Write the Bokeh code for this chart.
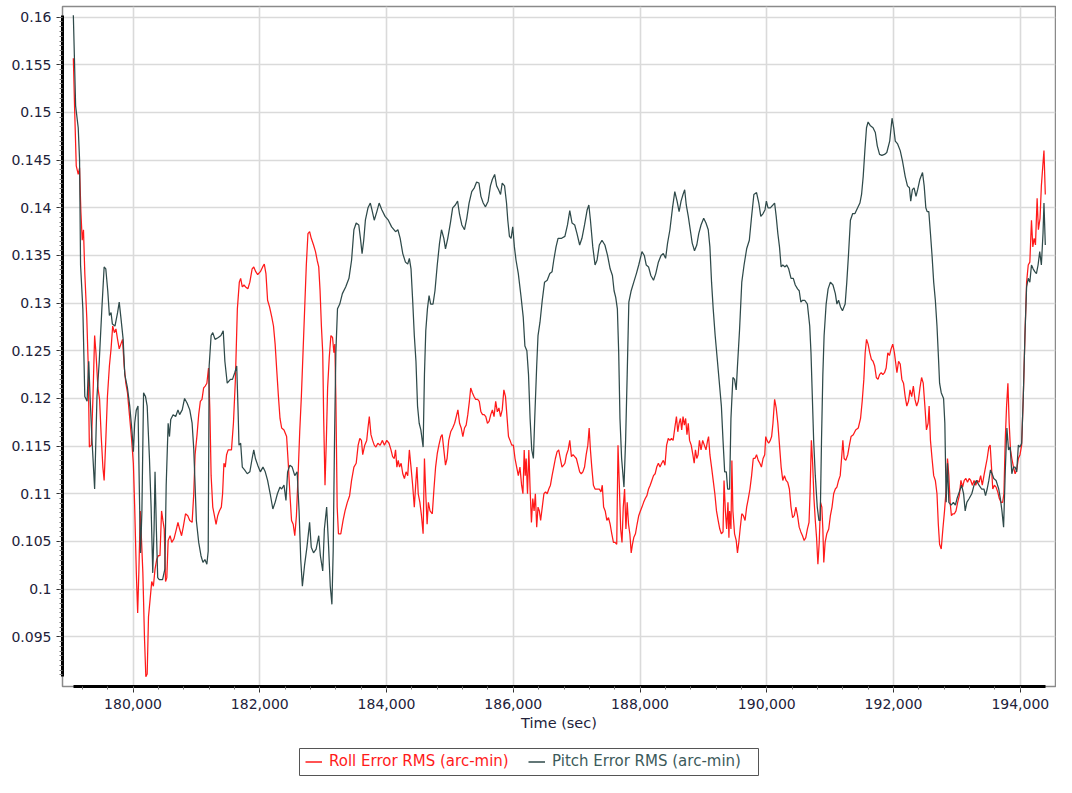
from bokeh.plotting import figure
from bokeh.layouts import column
from bokeh.models import (SingleIntervalTicker, NumeralTickFormatter, CustomJSTickFormatter,
                          Legend, LegendItem, BoxAnnotation, Range1d)
from bokeh.embed import file_html
from bokeh.resources import INLINE

# ---------------- data ----------------
pitch_time = [179058, 179094, 179135, 179156, 179172, 179208, 179239, 179275, 179301, 179322,
              179353, 179394, 179431, 179467, 179508, 179544, 179570, 179601, 179627, 179653,
              179674, 179715, 179756, 179782, 179808, 179844, 179870, 179912, 179948, 179984,
              180005, 180026, 180052, 180078, 180104, 180119, 180140, 180166, 180197, 180223,
              180259, 180285, 180311, 180332, 180347, 180368, 180389, 180414, 180466, 180502,
              180523, 180554, 180575, 180595, 180632, 180673, 180709, 180735, 180776, 180813,
              180854, 180895, 180932, 180958, 180979, 180999, 181036, 181072, 181103, 181134,
              181165, 181186, 181201, 181232, 181258, 181294, 181346, 181387, 181423, 181449,
              181486, 181537, 181569, 181605, 181636, 181657, 181672, 181698, 181724, 181760,
              181802, 181843, 181879, 181905, 181931, 181967, 182009, 182050, 182086, 182123,
              182164, 182206, 182242, 182278, 182319, 182345, 182382, 182413, 182439, 182475,
              182511, 182552, 182589, 182620, 182646, 182672, 182708, 182744, 182786, 182812,
              182848, 182889, 182930, 182956, 182993, 183019, 183055, 183086, 183112, 183138,
              183158, 183179, 183200, 183226, 183262, 183303, 183355, 183407, 183448, 183485,
              183521, 183562, 183588, 183614, 183640, 183666, 183707, 183744, 183769, 183806,
              183847, 183883, 183925, 183977, 184028, 184080, 184142, 184179, 184215, 184256,
              184298, 184334, 184360, 184386, 184412, 184438, 184464, 184489, 184515, 184541,
              184577, 184598, 184619, 184645, 184671, 184696, 184733, 184764, 184800, 184836,
              184867, 184904, 184930, 184966, 185007, 185043, 185085, 185121, 185152, 185188,
              185230, 185266, 185302, 185344, 185385, 185421, 185458, 185489, 185525, 185561,
              185603, 185639, 185670, 185706, 185737, 185768, 185799, 185825, 185862, 185893,
              185913, 185939, 185965, 185991, 186017, 186043, 186079, 186120, 186157, 186183,
              186214, 186240, 186265, 186291, 186317, 186338, 186369, 186390, 186421, 186457,
              186493, 186535, 186576, 186612, 186638, 186674, 186706, 186762, 186814, 186855,
              186891, 186927, 186969, 187005, 187047, 187083, 187124, 187166, 187192, 187217,
              187254, 187290, 187321, 187357, 187399, 187445, 187487, 187528, 187564, 187590,
              187616, 187642, 187663, 187683, 187709, 187746, 187772, 187797, 187823, 187860,
              187901, 187942, 187979, 188030, 188067, 188098, 188134, 188170, 188212, 188248,
              188289, 188331, 188367, 188403, 188434, 188471, 188512, 188548, 188584, 188616,
              188647, 188678, 188704, 188729, 188761, 188792, 188823, 188859, 188895, 188926,
              188962, 189004, 189040, 189076, 189102, 189128, 189154, 189185, 189221, 189258,
              189283, 189309, 189335, 189361, 189382, 189413, 189434, 189465, 189491, 189517,
              189537, 189569, 189605, 189641, 189682, 189724, 189760, 189796, 189838, 189874,
              189905, 189941, 189972, 189993, 190019, 190055, 190097, 190123, 190148, 190174,
              190200, 190226, 190252, 190288, 190314, 190345, 190382, 190418, 190449, 190485,
              190511, 190537, 190563, 190599, 190640, 190677, 190697, 190718, 190739, 190765,
              190796, 190822, 190842, 190863, 190884, 190904, 190936, 190967, 191003, 191044,
              191081, 191106, 191132, 191163, 191194, 191236, 191262, 191288, 191319, 191355,
              191391, 191433, 191469, 191495, 191521, 191547, 191573, 191598, 191635, 191676,
              191712, 191743, 191779, 191815, 191857, 191893, 191939, 191976, 192002, 192027,
              192064, 192105, 192141, 192183, 192219, 192250, 192271, 192297, 192323, 192354,
              192380, 192416, 192457, 192483, 192509, 192530, 192556, 192582, 192607, 192633,
              192659, 192685, 192711, 192726, 192752, 192789, 192809, 192830, 192851, 192872,
              192908, 192944, 192975, 193001, 193037, 193073, 193105, 193130, 193156, 193193,
              193234, 193270, 193306, 193348, 193389, 193426, 193451, 193477, 193503, 193529,
              193555, 193581, 193617, 193659, 193685, 193710, 193736, 193762, 193788, 193814,
              193840, 193866, 193892, 193918, 193943, 193969, 193995, 194021, 194047, 194073,
              194099, 194125, 194150, 194176, 194202, 194228, 194254, 194280, 194306, 194332,
              194358, 194373, 194394]

pitch_rms = [0.1602, 0.1507, 0.1484, 0.1451, 0.1340, 0.1294, 0.1202, 0.1197, 0.1239, 0.1202,
             0.1156, 0.1105, 0.1202, 0.1239, 0.1294, 0.1338, 0.1336, 0.1313, 0.1287, 0.1290,
             0.1278, 0.1276, 0.1290, 0.1301, 0.1285, 0.1262, 0.1225, 0.1211, 0.1192, 0.1165,
             0.1144, 0.1174, 0.1188, 0.1192, 0.1086, 0.1038, 0.1082, 0.1206, 0.1202, 0.1192,
             0.1137, 0.1086, 0.1017, 0.1063, 0.1123, 0.1063, 0.1012, 0.1010, 0.1010, 0.1021,
             0.1109, 0.1174, 0.1160, 0.1178, 0.1183, 0.1181, 0.1188, 0.1183, 0.1188, 0.1200,
             0.1195, 0.1188, 0.1174, 0.1147, 0.1109, 0.1072, 0.1049, 0.1035, 0.1028, 0.1031,
             0.1026, 0.1040, 0.1234, 0.1266, 0.1269, 0.1262, 0.1264, 0.1266, 0.1271, 0.1239,
             0.1216, 0.1220, 0.1220, 0.1227, 0.1234, 0.1188, 0.1151, 0.1153, 0.1128, 0.1125,
             0.1121, 0.1123, 0.1137, 0.1146, 0.1137, 0.1130, 0.1123, 0.1128, 0.1123, 0.1114,
             0.1100, 0.1084, 0.1091, 0.1100, 0.1107, 0.1105, 0.1109, 0.1093, 0.1123, 0.1130,
             0.1128, 0.1119, 0.1123, 0.1082, 0.1031, 0.1003, 0.1026, 0.1044, 0.1070, 0.1044,
             0.1038, 0.1042, 0.1056, 0.1035, 0.1019, 0.1063, 0.1086, 0.1044, 0.1003, 0.0984,
             0.1040, 0.1156, 0.1248, 0.1294, 0.1299, 0.1310, 0.1317, 0.1326, 0.1345, 0.1377,
             0.1384, 0.1382, 0.1368, 0.1352, 0.1366, 0.1387, 0.1400, 0.1405, 0.1398, 0.1387,
             0.1396, 0.1405, 0.1398, 0.1391, 0.1387, 0.1380, 0.1375, 0.1377, 0.1368, 0.1352,
             0.1343, 0.1341, 0.1347, 0.1336, 0.1303, 0.1266, 0.1239, 0.1192, 0.1174, 0.1167,
             0.1149, 0.1225, 0.1271, 0.1294, 0.1308, 0.1299, 0.1299, 0.1313, 0.1340, 0.1363,
             0.1377, 0.1368, 0.1357, 0.1368, 0.1384, 0.1400, 0.1403, 0.1407, 0.1393, 0.1382,
             0.1377, 0.1389, 0.1405, 0.1417, 0.1421, 0.1427, 0.1426, 0.1412, 0.1405, 0.1401,
             0.1407, 0.1423, 0.1430, 0.1435, 0.1423, 0.1419, 0.1414, 0.1426, 0.1423, 0.1405,
             0.1387, 0.1370, 0.1368, 0.1380, 0.1359, 0.1345, 0.1331, 0.1308, 0.1285, 0.1255,
             0.1250, 0.1225, 0.1179, 0.1146, 0.1137, 0.1179, 0.1234, 0.1266, 0.1280, 0.1303,
             0.1322, 0.1324, 0.1331, 0.1333, 0.1345, 0.1359, 0.1368, 0.1368, 0.1370, 0.1382,
             0.1397, 0.1384, 0.1382, 0.1373, 0.1361, 0.1368, 0.1382, 0.1398, 0.1403, 0.1387,
             0.1359, 0.1340, 0.1345, 0.1361, 0.1366, 0.1361, 0.1350, 0.1336, 0.1329, 0.1313,
             0.1306, 0.1294, 0.1248, 0.1179, 0.1137, 0.1107, 0.1156, 0.1225, 0.1301, 0.1313,
             0.1322, 0.1331, 0.1340, 0.1354, 0.1350, 0.1340, 0.1338, 0.1329, 0.1324, 0.1331,
             0.1343, 0.1350, 0.1352, 0.1347, 0.1363, 0.1377, 0.1400, 0.1417, 0.1407, 0.1396,
             0.1407, 0.1414, 0.1419, 0.1403, 0.1391, 0.1377, 0.1363, 0.1355, 0.1361, 0.1373,
             0.1382, 0.1389, 0.1384, 0.1377, 0.1359, 0.1322, 0.1294, 0.1266, 0.1239, 0.1211,
             0.1192, 0.1156, 0.1123, 0.1123, 0.1105, 0.1105, 0.1179, 0.1222, 0.1220, 0.1209,
             0.1234, 0.1271, 0.1322, 0.1340, 0.1357, 0.1366, 0.1391, 0.1414, 0.1416, 0.1405,
             0.1391, 0.1394, 0.1398, 0.1407, 0.1400, 0.1400, 0.1403, 0.1405, 0.1391, 0.1373,
             0.1359, 0.1338, 0.1340, 0.1338, 0.1340, 0.1336, 0.1326, 0.1326, 0.1319, 0.1315,
             0.1313, 0.1301, 0.1303, 0.1303, 0.1299, 0.1276, 0.1248, 0.1202, 0.1156, 0.1119,
             0.1086, 0.1072, 0.1072, 0.1156, 0.1225, 0.1266, 0.1299, 0.1315, 0.1322, 0.1319,
             0.1310, 0.1299, 0.1303, 0.1296, 0.1292, 0.1299, 0.1322, 0.1350, 0.1387, 0.1394,
             0.1394, 0.1400, 0.1405, 0.1414, 0.1433, 0.1460, 0.1484, 0.1490, 0.1486, 0.1484,
             0.1479, 0.1465, 0.1456, 0.1455, 0.1456, 0.1458, 0.1470, 0.1494, 0.1484, 0.1470,
             0.1467, 0.1460, 0.1449, 0.1433, 0.1423, 0.1421, 0.1407, 0.1419, 0.1421, 0.1412,
             0.1419, 0.1430, 0.1437, 0.1423, 0.1400, 0.1396, 0.1396, 0.1373, 0.1350, 0.1322,
             0.1303, 0.1276, 0.1239, 0.1216, 0.1206, 0.1200, 0.1174, 0.1091, 0.1132, 0.1091,
             0.1088, 0.1091, 0.1088, 0.1095, 0.1102, 0.1109, 0.1100, 0.1082, 0.1091, 0.1095,
             0.1100, 0.1109, 0.1114, 0.1109, 0.1105, 0.1105, 0.1098, 0.1105, 0.1114, 0.1125,
             0.1121, 0.1116, 0.1114, 0.1105, 0.1095, 0.1082, 0.1065, 0.1123, 0.1169, 0.1146,
             0.1149, 0.1121, 0.1128, 0.1128, 0.1123, 0.1151, 0.1149, 0.1153, 0.1202, 0.1266,
             0.1317, 0.1326, 0.1322, 0.1340, 0.1336, 0.1333, 0.1331, 0.1340, 0.1354, 0.1340,
             0.1373, 0.1405, 0.1361]

roll_time = [179058, 179079, 179104, 179135, 179156, 179177, 179198, 179218, 179239, 179270,
             179291, 179311, 179342, 179368, 179394, 179415, 179446, 179472, 179498, 179524,
             179544, 179570, 179596, 179627, 179653, 179679, 179705, 179730, 179756, 179782,
             179808, 179834, 179860, 179886, 179912, 179943, 179974, 180005, 180026, 180052,
             180073, 180093, 180114, 180135, 180155, 180181, 180202, 180223, 180244, 180269,
             180295, 180321, 180347, 180373, 180399, 180425, 180450, 180471, 180492, 180513,
             180533, 180554, 180585, 180611, 180647, 180684, 180709, 180735, 180766, 180792,
             180828, 180864, 180895, 180932, 180958, 180979, 181010, 181036, 181062, 181088,
             181114, 181139, 181165, 181191, 181212, 181232, 181258, 181284, 181310, 181336,
             181362, 181393, 181413, 181434, 181455, 181476, 181501, 181527, 181553, 181584,
             181615, 181646, 181677, 181698, 181724, 181750, 181776, 181812, 181843, 181879,
             181905, 181936, 181967, 182009, 182045, 182071, 182097, 182123, 182154, 182190,
             182216, 182242, 182268, 182294, 182319, 182345, 182382, 182423, 182449, 182475,
             182501, 182527, 182552, 182578, 182604, 182630, 182656, 182682, 182708, 182734,
             182760, 182786, 182812, 182848, 182879, 182905, 182930, 182951, 182972, 182993,
             183008, 183029, 183050, 183070, 183096, 183122, 183148, 183169, 183184, 183200,
             183221, 183241, 183278, 183314, 183345, 183381, 183417, 183448, 183485, 183521,
             183552, 183578, 183604, 183624, 183656, 183687, 183707, 183728, 183754, 183780,
             183806, 183832, 183863, 183899, 183935, 183966, 184003, 184039, 184070, 184096,
             184122, 184142, 184163, 184184, 184205, 184230, 184256, 184282, 184308, 184334,
             184360, 184386, 184412, 184438, 184464, 184479, 184500, 184526, 184551, 184577,
             184598, 184619, 184640, 184660, 184686, 184722, 184748, 184774, 184800, 184826,
             184857, 184878, 184904, 184930, 184955, 184981, 185012, 185043, 185074, 185100,
             185126, 185152, 185178, 185204, 185230, 185256, 185282, 185307, 185328, 185354,
             185380, 185406, 185437, 185463, 185489, 185515, 185540, 185566, 185592, 185618,
             185644, 185670, 185696, 185722, 185748, 185773, 185799, 185825, 185851, 185877,
             185898, 185924, 185949, 185975, 186001, 186027, 186053, 186079, 186105, 186131,
             186152, 186172, 186188, 186203, 186224, 186245, 186265, 186286, 186307, 186328,
             186348, 186369, 186390, 186411, 186431, 186457, 186483, 186509, 186535, 186560,
             186586, 186612, 186638, 186664, 186690, 186716, 186742, 186768, 186794, 186814,
             186839, 186865, 186891, 186917, 186943, 186969, 186995, 187021, 187047, 187072,
             187098, 187124, 187150, 187176, 187197, 187217, 187238, 187264, 187290, 187321,
             187357, 187383, 187404, 187425, 187450, 187476, 187502, 187528, 187554, 187580,
             187606, 187632, 187652, 187673, 187694, 187715, 187735, 187756, 187777, 187797,
             187818, 187839, 187860, 187880, 187901, 187927, 187953, 187979, 188005, 188030,
             188056, 188082, 188108, 188134, 188160, 188186, 188212, 188238, 188263, 188289,
             188315, 188341, 188367, 188393, 188419, 188445, 188471, 188496, 188522, 188548,
             188574, 188595, 188616, 188637, 188657, 188678, 188699, 188719, 188740, 188761,
             188781, 188807, 188833, 188854, 188874, 188895, 188916, 188937, 188962, 188988,
             189014, 189040, 189066, 189081, 189102, 189128, 189154, 189180, 189206, 189232,
             189258, 189283, 189309, 189325, 189346, 189366, 189387, 189402, 189413, 189434,
             189449, 189465, 189491, 189517, 189537, 189558, 189579, 189605, 189631, 189657,
             189682, 189708, 189734, 189760, 189786, 189812, 189838, 189864, 189890, 189915,
             189941, 189967, 189983, 190003, 190029, 190055, 190076, 190097, 190123, 190148,
             190174, 190200, 190226, 190252, 190278, 190304, 190330, 190356, 190382, 190407,
             190433, 190459, 190485, 190511, 190537, 190563, 190589, 190615, 190640, 190666,
             190682, 190703, 190723, 190744, 190765, 190785, 190806, 190827, 190848, 190868,
             190884, 190899, 190920, 190946, 190977, 191003, 191029, 191055, 191081, 191106,
             191132, 191158, 191184, 191200, 191220, 191246, 191277, 191303, 191329, 191365,
             191402, 191443, 191479, 191505, 191531, 191552, 191573, 191598, 191624, 191650,
             191676, 191702, 191728, 191754, 191779, 191805, 191831, 191857, 191883, 191909,
             191935, 191961, 191987, 192013, 192053, 192079, 192105, 192131, 192157, 192183,
             192209, 192235, 192260, 192286, 192312, 192338, 192364, 192390, 192416, 192442,
             192468, 192494, 192519, 192545, 192561, 192582, 192607, 192633, 192659, 192685,
             192706, 192726, 192752, 192778, 192804, 192830, 192851, 192872, 192892, 192913,
             192934, 192960, 192985, 193011, 193037, 193063, 193089, 193115, 193141, 193167,
             193193, 193218, 193244, 193270, 193296, 193322, 193348, 193374, 193400, 193426,
             193451, 193477, 193503, 193524, 193545, 193565, 193591, 193617, 193643, 193669,
             193695, 193721, 193741, 193762, 193783, 193804, 193824, 193845, 193866, 193892,
             193918, 193943, 193969, 193995, 194021, 194047, 194073, 194099, 194125, 194150,
             194176, 194197, 194218, 194239, 194265, 194285, 194311, 194332, 194358, 194373,
             194394]

roll_rms = [0.1557, 0.1502, 0.1444, 0.1435, 0.1442, 0.1396, 0.1366, 0.1377, 0.1331, 0.1285,
            0.1239, 0.1149, 0.1151, 0.1202, 0.1266, 0.1248, 0.1211, 0.1199, 0.1160, 0.1128,
            0.1114, 0.1156, 0.1202, 0.1234, 0.1252, 0.1276, 0.1269, 0.1273, 0.1262, 0.1252,
            0.1257, 0.1262, 0.1234, 0.1216, 0.1206, 0.1183, 0.1160, 0.1132, 0.1086, 0.1017,
            0.0975, 0.1021, 0.1082, 0.1049, 0.1017, 0.0948, 0.0908, 0.0911, 0.0971, 0.0989,
            0.1008, 0.1003, 0.1021, 0.1031, 0.1035, 0.1035, 0.1082, 0.1072, 0.1063, 0.1008,
            0.1012, 0.1051, 0.1056, 0.1049, 0.1053, 0.1063, 0.1070, 0.1063, 0.1056, 0.1065,
            0.1079, 0.1077, 0.1072, 0.1070, 0.1100, 0.1141, 0.1162, 0.1183, 0.1197, 0.1199,
            0.1211, 0.1213, 0.1216, 0.1232, 0.1188, 0.1119, 0.1086, 0.1077, 0.1068, 0.1077,
            0.1082, 0.1086, 0.1100, 0.1132, 0.1128, 0.1141, 0.1146, 0.1146, 0.1146, 0.1174,
            0.1220, 0.1294, 0.1322, 0.1326, 0.1317, 0.1319, 0.1317, 0.1315, 0.1322, 0.1336,
            0.1338, 0.1333, 0.1330, 0.1333, 0.1338, 0.1341, 0.1331, 0.1303, 0.1296, 0.1285,
            0.1276, 0.1257, 0.1229, 0.1202, 0.1179, 0.1169, 0.1167, 0.1160, 0.1132, 0.1100,
            0.1072, 0.1068, 0.1056, 0.1077, 0.1119, 0.1165, 0.1202, 0.1248, 0.1294, 0.1340,
            0.1373, 0.1375, 0.1368, 0.1361, 0.1354, 0.1345, 0.1338, 0.1313, 0.1276, 0.1248,
            0.1179, 0.1109, 0.1156, 0.1211, 0.1243, 0.1266, 0.1264, 0.1248, 0.1257, 0.1202,
            0.1086, 0.1058, 0.1058, 0.1072, 0.1082, 0.1091, 0.1098, 0.1114, 0.1128, 0.1132,
            0.1151, 0.1158, 0.1156, 0.1141, 0.1151, 0.1156, 0.1169, 0.1181, 0.1162, 0.1156,
            0.1151, 0.1149, 0.1153, 0.1151, 0.1156, 0.1151, 0.1156, 0.1153, 0.1146, 0.1139,
            0.1137, 0.1146, 0.1128, 0.1135, 0.1128, 0.1132, 0.1121, 0.1116, 0.1123, 0.1119,
            0.1146, 0.1128, 0.1109, 0.1086, 0.1114, 0.1128, 0.1100, 0.1091, 0.1077, 0.1058,
            0.1137, 0.1100, 0.1068, 0.1091, 0.1082, 0.1079, 0.1105, 0.1128, 0.1142, 0.1151,
            0.1160, 0.1162, 0.1146, 0.1130, 0.1137, 0.1156, 0.1165, 0.1169, 0.1174, 0.1181,
            0.1188, 0.1174, 0.1169, 0.1160, 0.1169, 0.1172, 0.1183, 0.1197, 0.1211, 0.1206,
            0.1202, 0.1199, 0.1199, 0.1197, 0.1186, 0.1183, 0.1183, 0.1181, 0.1174, 0.1176,
            0.1183, 0.1188, 0.1181, 0.1197, 0.1186, 0.1190, 0.1181, 0.1188, 0.1209, 0.1202,
            0.1183, 0.1160, 0.1156, 0.1151, 0.1151, 0.1137, 0.1128, 0.1119, 0.1128, 0.1109,
            0.1100, 0.1146, 0.1119, 0.1137, 0.1100, 0.1146, 0.1105, 0.1070, 0.1095, 0.1082,
            0.1100, 0.1065, 0.1086, 0.1082, 0.1072, 0.1086, 0.1100, 0.1102, 0.1100, 0.1105,
            0.1109, 0.1119, 0.1128, 0.1137, 0.1144, 0.1146, 0.1137, 0.1128, 0.1130, 0.1132,
            0.1141, 0.1146, 0.1156, 0.1139, 0.1141, 0.1139, 0.1137, 0.1130, 0.1123, 0.1121,
            0.1123, 0.1128, 0.1141, 0.1151, 0.1169, 0.1146, 0.1128, 0.1109, 0.1105, 0.1105,
            0.1105, 0.1102, 0.1109, 0.1086, 0.1082, 0.1072, 0.1075, 0.1068, 0.1058, 0.1049,
            0.1049, 0.1047, 0.1151, 0.1109, 0.1063, 0.1049, 0.1086, 0.1105, 0.1063, 0.1091,
            0.1068, 0.1058, 0.1038, 0.1047, 0.1054, 0.1058, 0.1068, 0.1077, 0.1082, 0.1086,
            0.1091, 0.1095, 0.1098, 0.1105, 0.1109, 0.1114, 0.1119, 0.1121, 0.1128, 0.1132,
            0.1128, 0.1132, 0.1135, 0.1130, 0.1151, 0.1158, 0.1156, 0.1158, 0.1156, 0.1169,
            0.1181, 0.1165, 0.1174, 0.1179, 0.1167, 0.1181, 0.1172, 0.1179, 0.1162, 0.1174,
            0.1156, 0.1151, 0.1141, 0.1132, 0.1146, 0.1137, 0.1141, 0.1156, 0.1146, 0.1156,
            0.1151, 0.1146, 0.1156, 0.1160, 0.1141, 0.1128, 0.1114, 0.1100, 0.1082, 0.1072,
            0.1063, 0.1058, 0.1060, 0.1114, 0.1082, 0.1063, 0.1091, 0.1054, 0.1082, 0.1063,
            0.1135, 0.1082, 0.1058, 0.1051, 0.1038, 0.1049, 0.1063, 0.1079, 0.1077, 0.1072,
            0.1086, 0.1095, 0.1105, 0.1119, 0.1137, 0.1137, 0.1141, 0.1135, 0.1132, 0.1128,
            0.1137, 0.1141, 0.1160, 0.1156, 0.1153, 0.1156, 0.1160, 0.1174, 0.1199, 0.1190,
            0.1174, 0.1151, 0.1128, 0.1114, 0.1119, 0.1114, 0.1112, 0.1105, 0.1086, 0.1075,
            0.1077, 0.1086, 0.1077, 0.1065, 0.1060, 0.1056, 0.1051, 0.1054, 0.1063, 0.1070,
            0.1100, 0.1156, 0.1132, 0.1095, 0.1072, 0.1054, 0.1026, 0.1049, 0.1091, 0.1086,
            0.1063, 0.1028, 0.1049, 0.1058, 0.1063, 0.1077, 0.1086, 0.1100, 0.1105, 0.1107,
            0.1114, 0.1119, 0.1141, 0.1156, 0.1137, 0.1135, 0.1141, 0.1151, 0.1160, 0.1162,
            0.1167, 0.1169, 0.1179, 0.1197, 0.1220, 0.1248, 0.1262, 0.1257, 0.1248, 0.1241,
            0.1239, 0.1234, 0.1222, 0.1220, 0.1225, 0.1227, 0.1225, 0.1227, 0.1232, 0.1248,
            0.1245, 0.1252, 0.1257, 0.1248, 0.1227, 0.1239, 0.1236, 0.1220, 0.1216, 0.1202,
            0.1192, 0.1197, 0.1209, 0.1202, 0.1213, 0.1199, 0.1192, 0.1197, 0.1211, 0.1222,
            0.1216, 0.1192, 0.1167, 0.1174, 0.1192, 0.1156, 0.1137, 0.1119, 0.1114, 0.1100,
            0.1068, 0.1047, 0.1042, 0.1063, 0.1082, 0.1105, 0.1137, 0.1119, 0.1091, 0.1077,
            0.1079, 0.1079, 0.1082, 0.1091, 0.1098, 0.1114, 0.1107, 0.1114, 0.1116, 0.1112,
            0.1116, 0.1114, 0.1109, 0.1114, 0.1109, 0.1114, 0.1112, 0.1119, 0.1109, 0.1119,
            0.1128, 0.1137, 0.1149, 0.1151, 0.1128, 0.1105, 0.1109, 0.1107, 0.1102, 0.1095,
            0.1091, 0.1091, 0.1100, 0.1156, 0.1192, 0.1216, 0.1174, 0.1146, 0.1137, 0.1128,
            0.1121, 0.1125, 0.1137, 0.1141, 0.1151, 0.1202, 0.1266, 0.1322, 0.1340, 0.1343,
            0.1387, 0.1359, 0.1368, 0.1361, 0.1410, 0.1377, 0.1389, 0.1423, 0.1447, 0.1460,
            0.1414]

x_major_ticks_every = 2000
y_major_ticks_every = 0.005
series_names = ["Roll Error RMS (arc-min)", "Pitch Error RMS (arc-min)"]
x_label = "Time (sec)"

# ---------------- style ----------------
FONT = "DejaVu Sans"
TXT = "#22223a"
ROLL_C = "#ff1a1a"
PITCH_C = "#2f4a4a"
W = 1056
BORDER_L, BORDER_R = 62, 1

# ---------------- main chart ----------------
p = figure(width=W, height=740, output_backend="svg", toolbar_location=None,
           x_range=Range1d(178887, 194555), y_range=Range1d(0.08978, 0.16112),
           min_border_left=BORDER_L, min_border_right=BORDER_R, min_border_top=6,
           min_border_bottom=54)
p.background_fill_color = "white"
p.border_fill_color = "white"
p.outline_line_color = "#8a8a8a"
p.outline_line_width = 1.5

r_roll = p.line(roll_time, roll_rms, line_color=ROLL_C, line_width=1.25)
r_pitch = p.line(pitch_time, pitch_rms, line_color=PITCH_C, line_width=1.25)

xt = SingleIntervalTicker(interval=x_major_ticks_every, num_minor_ticks=5)
yt = SingleIntervalTicker(interval=y_major_ticks_every, num_minor_ticks=10)

xa = p.xaxis[0]
ya = p.yaxis[0]
xa.ticker = xt
ya.ticker = yt
p.xgrid[0].ticker = xt
p.ygrid[0].ticker = yt
xa.formatter = NumeralTickFormatter(format="0,0")
ya.formatter = CustomJSTickFormatter(code="return String(Number(tick.toFixed(4)));")
xa.bounds = (min(roll_time + pitch_time), max(roll_time + pitch_time))
ya.bounds = (min(roll_rms + pitch_rms), max(roll_rms + pitch_rms))
xa.axis_label = x_label

for ax in (xa, ya):
    ax.axis_line_color = "black"
    ax.axis_line_width = 3
    ax.major_tick_line_color = "#333333"
    ax.minor_tick_line_color = "#777777"
    ax.major_tick_in = 0
    ax.major_tick_out = 6
    ax.minor_tick_in = 0
    ax.minor_tick_out = 3
    ax.major_label_text_font = FONT
    ax.major_label_text_font_size = "14px"
    ax.major_label_text_color = TXT
    ax.axis_label_text_font = FONT
    ax.axis_label_text_font_size = "14.5px"
    ax.axis_label_text_font_style = "normal"
    ax.axis_label_text_color = TXT
xa.major_label_standoff = 6
xa.axis_label_standoff = 3
ya.major_label_standoff = 5

for g in (p.xgrid[0], p.ygrid[0]):
    g.grid_line_color = "#dadada"
    g.grid_line_width = 1.6

# ---------------- legend strip (a second, axis-less figure) ----------------
leg = figure(width=W, height=37, output_backend="svg", toolbar_location=None,
             x_range=Range1d(0, 1), y_range=Range1d(0, 1),
             x_axis_type=None, y_axis_type=None,
             min_border_left=BORDER_L, min_border_right=BORDER_R,
             min_border_top=0, min_border_bottom=0)
leg.outline_line_color = None
leg.grid.visible = False
leg.background_fill_color = "white"
leg.border_fill_color = "white"

# stand-in renderers (kept outside the visible range) so the legend can draw its line glyphs
lr = leg.line(x=[0, 1], y=[5, 5], line_color=ROLL_C, line_width=1.5)
lp = leg.line(x=[0, 1], y=[5, 5], line_color=PITCH_C, line_width=1.5)

box = BoxAnnotation(left=299 - BORDER_L, right=758 - BORDER_L, top=29, bottom=2,
                    left_units="screen", right_units="screen",
                    top_units="screen", bottom_units="screen",
                    fill_color=None, fill_alpha=0, line_color="#555555",
                    line_width=1, line_alpha=1, line_dash="solid")
leg.add_layout(box)

def make_legend(name, renderer, color, x):
    lg = Legend(items=[LegendItem(label=name, renderers=[renderer])],
                location=(x - BORDER_L, 2), orientation="horizontal",
                border_line_alpha=0, background_fill_alpha=0,
                padding=5, margin=0, spacing=0,
                glyph_width=17, glyph_height=17, label_height=17,
                label_standoff=7, label_text_font=FONT,
                label_text_font_size="15px", label_text_color=color)
    leg.add_layout(lg, "center")
    return lg

make_legend(series_names[0], lr, ROLL_C, 300)
make_legend(series_names[1], lp, "#3c5a5a", 523)

open("out.html", "w").write(file_html(column(p, leg, spacing=0), INLINE))
